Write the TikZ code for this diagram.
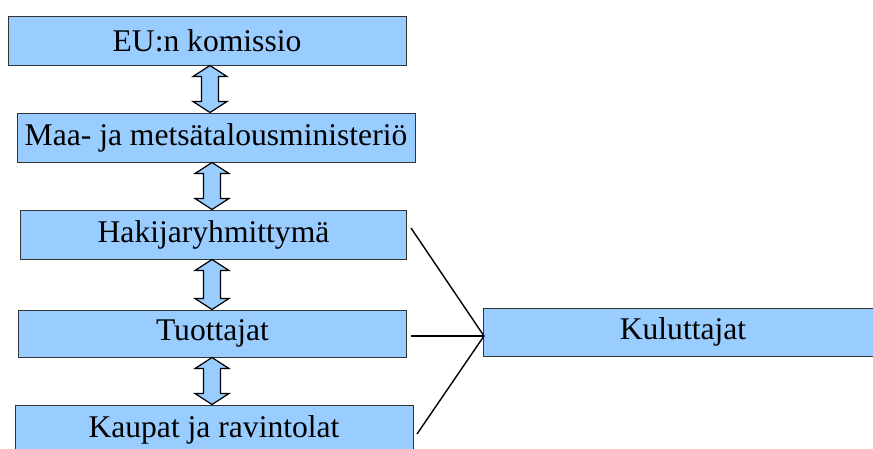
\documentclass[tikz,border=0pt]{standalone}
\usepackage{fontspec}
\setmainfont{Liberation Serif}
\usetikzlibrary{calc}
\definecolor{boxblue}{HTML}{99CCFF}
\tikzset{
  box/.style={draw=black!80, line width=1pt, fill=boxblue, inner sep=0pt, anchor=center,
    font=\fontsize{31.6}{38}\selectfont},
  link/.style={draw=black, line width=1.4pt},
  dbl/.style={draw=black, line width=1.2pt, fill=boxblue, line join=miter}
}
\newcommand\updown[3]{%
  \path let \p1=(#1.south), \p2=(#2.north) in
    coordinate (t) at (#3,\y1) coordinate (b) at (#3,\y2);
  \draw[dbl] let \p1=(t), \p2=(b) in
    (\x1,\y1) -- (\x1+17,\y1-11) -- (\x1+8.5,\y1-11) -- (\x1+8.5,\y2+11) -- (\x1+17,\y2+11)
    -- (\x1,\y2) -- (\x1-17,\y2+11) -- (\x1-8.5,\y2+11) -- (\x1-8.5,\y1-11) -- (\x1-17,\y1-11) -- cycle;
}
\begin{document}
\begin{tikzpicture}[x=1pt,y=1pt]
\clip (0,0) rectangle (873,-448);
\fill[white] (0,0) rectangle (873,-448);
\node[box, minimum width=398pt, minimum height=49pt] (eu) at (207,-40.5) {EU:n komissio};
\node[box, minimum width=398pt, minimum height=49pt] (mmm) at (216,-137.5) {Maa- ja metsätalousministeriö};
\node[box, minimum width=386pt, minimum height=49pt] (hak) at (213.5,-234.5) {Hakijaryhmittymä};
\node[box, minimum width=388pt, minimum height=47pt] (tuo) at (212.5,-333.5) {Tuottajat};
\node[box, minimum width=398pt, minimum height=50pt] (kau) at (214,-430) {Kaupat ja ravintolat};
\node[box, minimum width=400pt, minimum height=48pt] (kul) at (683,-332) {Kuluttajat};
\updown{eu}{mmm}{210}
\updown{mmm}{hak}{212}
\updown{hak}{tuo}{212}
\updown{tuo}{kau}{212}
\coordinate (conv) at (484,-336);
\coordinate (h1) at (411,-228);
\coordinate (t1) at (411,-336);
\coordinate (k1) at (417,-434);
\draw[link] (h1) -- (conv);
\draw[link] (t1) -- (conv);
\draw[link] (k1) -- (conv);
\end{tikzpicture}
\end{document}
